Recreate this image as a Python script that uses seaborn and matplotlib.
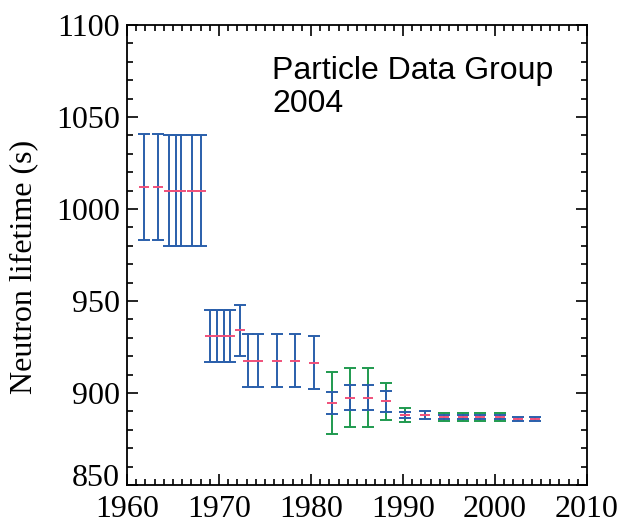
import numpy as np
import pandas as pd
import matplotlib
matplotlib.use("Agg")
import matplotlib.pyplot as plt
from matplotlib.ticker import MultipleLocator
import matplotlib.transforms as mtransforms
import seaborn as sns

# Data
years = [1961.9, 1963.4, 1964.6, 1965.3, 1965.9, 1967.1, 1968.0,
         1969.0, 1969.8, 1970.5, 1971.2, 1972.3,
         1973.2, 1974.2, 1976.3, 1978.3, 1980.3,
         1982.3, 1984.2, 1986.2, 1988.2, 1990.2,
         1992.4, 1994.5, 1996.5, 1998.4, 2000.5, 2002.5, 2004.4]
lifetime = [1012, 1012, 1010, 1010, 1010, 1010, 1010,
            931, 931, 931, 931, 934,
            917.5, 917.5, 917.5, 917.5, 916.5,
            894.5, 897.5, 897.5, 895.5, 888,
            888, 887, 887, 887, 887, 885.7, 885.7]
stat_err = [29, 29, 30, 30, 30, 30, 30,
            14, 14, 14, 14, 14,
            14.3, 14.3, 14.3, 14.3, 14.3,
            6.0, 6.8, 6.8, 5.7, 1.8,
            2.1, 1.3, 1.3, 1.3, 1.3, 1.0, 1.0]
total_err = [np.nan] * 17 + [17, 16.2, 16.2, 10, 3.7,
                             np.nan, 2.0, 2.0, 2.0, 2.0, np.nan, np.nan]

df = pd.DataFrame({"year": years, "tau": lifetime,
                   "stat": stat_err, "tot": total_err})

sns.set_style("ticks")
plt.rcParams["font.family"] = ["Liberation Serif", "DejaVu Serif"]
plt.rcParams["text.color"] = "black"
plt.rcParams["axes.labelcolor"] = "black"
plt.rcParams["xtick.labelcolor"] = "black"
plt.rcParams["ytick.labelcolor"] = "black"

fig = plt.figure(figsize=(6.2, 5.24), dpi=100)
ax = fig.add_axes([0.2048, 0.0744, 0.742, 0.878])

blue = "#2a5fab"
green = "#1f9a4f"
red = "#f0507a"

g = df.dropna(subset=["tot"])
ax.errorbar(g["year"], g["tau"], yerr=g["tot"], fmt="none", ecolor=green,
            elinewidth=1.4, capsize=4.5, capthick=1.4, zorder=2)
ax.errorbar(df["year"], df["tau"], yerr=df["stat"], fmt="none", ecolor=blue,
            elinewidth=1.4, capsize=4.5, capthick=1.4, zorder=3)
sns.scatterplot(data=df, x="year", y="tau", marker="_", s=60, color=red,
                linewidth=1.4, ax=ax, zorder=4, legend=False)

ax.set_xlim(1960, 2010)
ax.set_ylim(850, 1100)
ax.xaxis.set_major_locator(MultipleLocator(10))
ax.xaxis.set_minor_locator(MultipleLocator(1))
ax.yaxis.set_major_locator(MultipleLocator(50))
ax.yaxis.set_minor_locator(MultipleLocator(10))
ax.tick_params(which="both", direction="in", top=True, right=True,
               labelsize=23, color="black", labelcolor="black", width=1.2)
ax.tick_params(axis="y", pad=5)
ax.tick_params(axis="x", pad=7)
ax.tick_params(which="major", length=8)
ax.tick_params(which="minor", length=4.5)
for s in ax.spines.values():
    s.set_linewidth(1.3)
    s.set_color("black")

# nudge the lowest y tick label upward, as in the reference
fig.canvas.draw()
for lab in ax.get_yticklabels():
    if lab.get_text() == "850":
        lab.set_transform(lab.get_transform() +
                          mtransforms.ScaledTranslation(0, 10 / 100, fig.dpi_scale_trans))

ax.set_xlabel("")
ax.set_ylabel("Neutron lifetime (s)", fontsize=23, labelpad=13, color="black")
ax.yaxis.label.set_y(0.475)

ax.text(1975.8, 1083, "Particle Data Group\n2004", fontsize=23,
        family=["Liberation Sans", "DejaVu Sans"], va="top", ha="left",
        linespacing=1.1, color="black")

fig.savefig("out.png", dpi=100)
